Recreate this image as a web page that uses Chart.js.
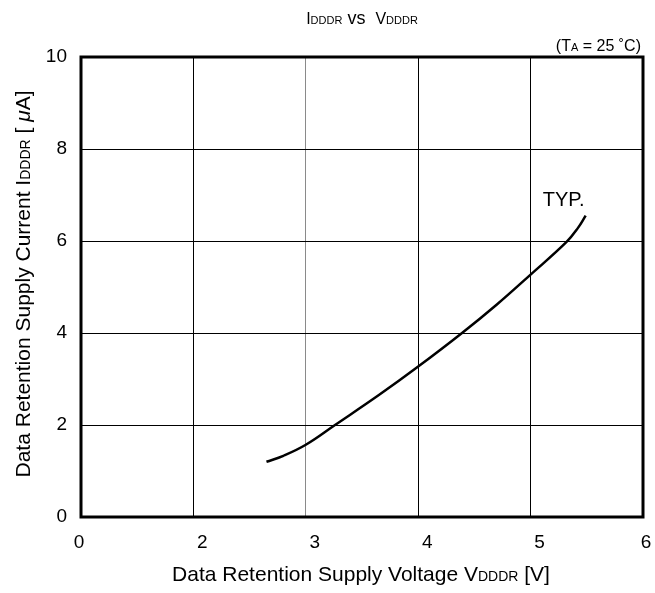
<!DOCTYPE html>
<html>
<head>
<meta charset="utf-8">
<script src="https://cdn.jsdelivr.net/npm/chart.js@4"></script>
<style>
  html, body { margin: 0; padding: 0; background: #fff; }
</style>
</head>
<body>
<canvas id="chart" width="655" height="593"></canvas>
<script>
// I_DDDR vs V_DDDR, typical curve, TA = 25 C
const voltage = [2.65, 2.8, 3.0, 3.26, 3.65, 4.0, 4.39, 4.7, 5.0, 5.32, 5.42, 5.49];
const current = [1.2, 1.33, 1.57, 2.0, 2.65, 3.27, 4.0, 4.62, 5.27, 5.98, 6.28, 6.55];

// x axis is broken: left edge reads "0", then 2..6
const xTickValues = [1, 2, 3, 4, 5, 6];
const xTickLabels = ["0", "2", "3", "4", "5", "6"];
const yMin = 0, yMax = 10, yStep = 2;

const FONT = '"Liberation Sans", Arial, Helvetica, sans-serif';

// draw text made of parts with different sizes (for subscripts)
function richText(c, parts, x, y, align) {
    let w = 0;
    parts.forEach(p => {
        c.font = (p[2] || "") + " " + p[1] + "px " + FONT;
        w += c.measureText(p[0]).width;
    });
    let cx = align === "center" ? x - w / 2 : align === "right" ? x - w : x;
    c.textAlign = "left";
    c.textBaseline = "alphabetic";
    parts.forEach(p => {
        c.font = (p[2] || "") + " " + p[1] + "px " + FONT;
        c.fillText(p[0], cx, y);
        cx += c.measureText(p[0]).width;
    });
}

const decor = {
    id: "decor",
    afterDraw(chart) {
        const c = chart.ctx;
        const a = chart.chartArea;
        const xs = chart.scales.x, ys = chart.scales.y;
        c.save();
        c.fillStyle = "#000";

        // heavy frame
        c.strokeStyle = "#000";
        c.lineWidth = 3;
        c.strokeRect(a.left, a.top, a.right - a.left, a.bottom - a.top);

        // x tick labels (sit a little right of their grid lines, as in the original)
        const shifts = [-2, 9, 9, 9, 9, 3];
        c.font = "19px " + FONT;
        c.textAlign = "center";
        c.textBaseline = "alphabetic";
        xTickValues.forEach((v, i) => {
            c.fillText(xTickLabels[i], xs.getPixelForValue(v) + shifts[i], a.bottom + 31);
        });

        const mid = (a.left + a.right) / 2;
        // title
        richText(c, [["I", 16], ["DDDR", 11], [" vs  ", 18], ["V", 16], ["DDDR", 11]], mid, 24, "center");
        // condition
        richText(c, [["(T", 16], ["A", 11], [" = 25 \u02daC)", 16]], a.right - 2, 51, "right");
        // x title
        richText(c, [["Data Retention Supply Voltage V", 21], ["DDDR", 14], [" [V]", 21]], mid - 1, 581, "center");
        // y title
        c.translate(30, 284);
        c.rotate(-Math.PI / 2);
        richText(c, [["Data Retention Supply Current I", 21], ["DDDR", 14], [" [ ", 21], ["\u03bc", 21, "italic"], ["A]", 21]], 0, 0, "center");
        c.restore();

        // curve label near the end of the curve
        const n = voltage.length - 1;
        c.save();
        c.fillStyle = "#000";
        c.font = "20px " + FONT;
        c.textAlign = "left";
        c.fillText("TYP.", xs.getPixelForValue(voltage[n]) - 43, ys.getPixelForValue(current[n]) - 10);
        c.restore();
    }
};

const chart = new Chart(document.getElementById("chart").getContext("2d"), {
    type: "line",
    data: {
        datasets: [{
            data: voltage.map((v, i) => ({ x: v, y: current[i] })),
            borderColor: "#000",
            borderWidth: 2.5,
            pointRadius: 0,
            fill: false,
            tension: 0.4
        }]
    },
    options: {
        responsive: false,
        animation: false,
        events: [],
        layout: { padding: { left: 0, top: 57, right: 12, bottom: 0 } },
        plugins: { legend: { display: false }, tooltip: { enabled: false } },
        scales: {
            x: {
                type: "linear",
                min: xTickValues[0],
                max: xTickValues[xTickValues.length - 1],
                afterBuildTicks: s => { s.ticks = xTickValues.map(v => ({ value: v })); },
                afterFit: s => { s.height = 76; },
                ticks: { display: false },
                border: { display: false },
                grid: {
                    drawTicks: false,
                    lineWidth: 1,
                    color: ctx => ctx.tick && ctx.tick.value === 3 ? "#8a8a8a" : "#000"
                }
            },
            y: {
                min: yMin,
                max: yMax,
                afterFit: s => { s.width = 81; },
                ticks: {
                    stepSize: yStep,
                    color: "#000",
                    padding: 14,
                    font: { family: FONT, size: 19 }
                },
                border: { display: false },
                grid: { drawTicks: false, lineWidth: 1, color: "#000" }
            }
        }
    },
    plugins: [decor]
});
</script>
</body>
</html>
